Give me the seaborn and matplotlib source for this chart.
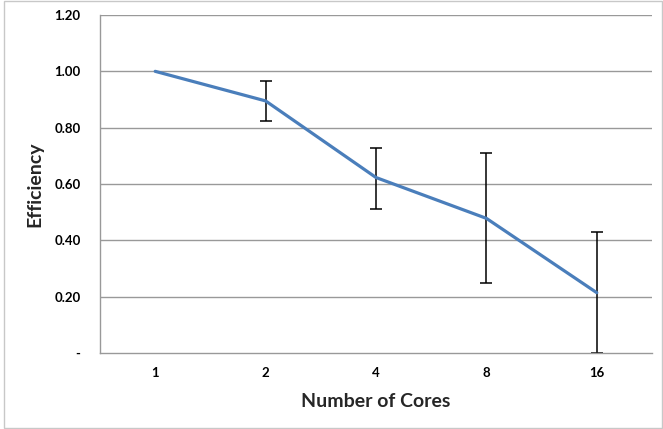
import numpy as np
import matplotlib.pyplot as plt
import matplotlib.patches as mpatches
import seaborn as sns
import pandas as pd

# data
cores = ["1", "2", "4", "8", "16"]
efficiency = [1.00, 0.895, 0.623, 0.478, 0.214]
err_low = [1.00, 0.822, 0.512, 0.248, 0.0]
err_high = [1.00, 0.965, 0.729, 0.710, 0.430]
yticks = [0.0, 0.2, 0.4, 0.6, 0.8, 1.0, 1.2]

df = pd.DataFrame({"cores": cores, "efficiency": efficiency})

sns.set_style("white")
plt.rcParams["font.family"] = ["Lato", "DejaVu Sans"]

fig = plt.figure(figsize=(6.63, 4.29), dpi=100)
ax = fig.add_axes([100 / 663, 76 / 429, 552 / 663, 338 / 429])

pos = np.arange(len(cores))
df["pos"] = pos

# gridlines
for y in yticks[1:]:
    ax.axhline(y, color="#999999", lw=1.0, zorder=1)

sns.lineplot(data=df, x="pos", y="efficiency", ax=ax, color="#4a7ebb",
             lw=2.3, zorder=3, legend=False)

eff = np.array(efficiency)
lo = eff - np.array(err_low)
hi = np.array(err_high) - eff
mask = (lo + hi) > 0.0001
ax.errorbar(pos[mask], eff[mask], yerr=[lo[mask], hi[mask]],
            fmt="none", ecolor="black", elinewidth=1.1, capsize=4, capthick=1.1,
            zorder=2.2)

ax.set_xlim(-0.5, len(cores) - 0.5)
ax.set_ylim(0, 1.2)
ax.set_xticks(pos)
ax.set_xticklabels(cores, fontsize=9.5, fontweight="bold")
ax.set_xticks(np.arange(-0.5, len(cores)), minor=True)
ax.tick_params(axis="x", which="major", length=0, pad=10)
ax.tick_params(axis="x", which="minor", length=4, width=1, direction="out")
ax.set_yticks(yticks)
ax.set_yticklabels(["-" if v == 0 else f"{v:.2f}" for v in yticks],
                   fontsize=9.5, fontweight="bold")
ax.tick_params(axis="y", length=4, width=1, direction="out", pad=10)
ax.tick_params(axis="both", which="both", color="#999999", labelcolor="black")

for side in ["top", "right"]:
    ax.spines[side].set_visible(False)
for side in ["left", "bottom"]:
    ax.spines[side].set_color("#999999")
    ax.spines[side].set_linewidth(1.0)
    ax.spines[side].set_zorder(2.5)

ax.set_xlabel("Number of Cores", fontsize=14, fontweight="bold", labelpad=10)
ax.set_ylabel("Efficiency", fontsize=14, fontweight="bold", labelpad=8)

# outer chart border
fig.patches.append(mpatches.Rectangle((4 / 663, 1 / 429), 658 / 663, 427 / 429,
                                      transform=fig.transFigure, fill=False,
                                      edgecolor="#c8c8c8", lw=1.0))

fig.savefig("out.png", dpi=100)
